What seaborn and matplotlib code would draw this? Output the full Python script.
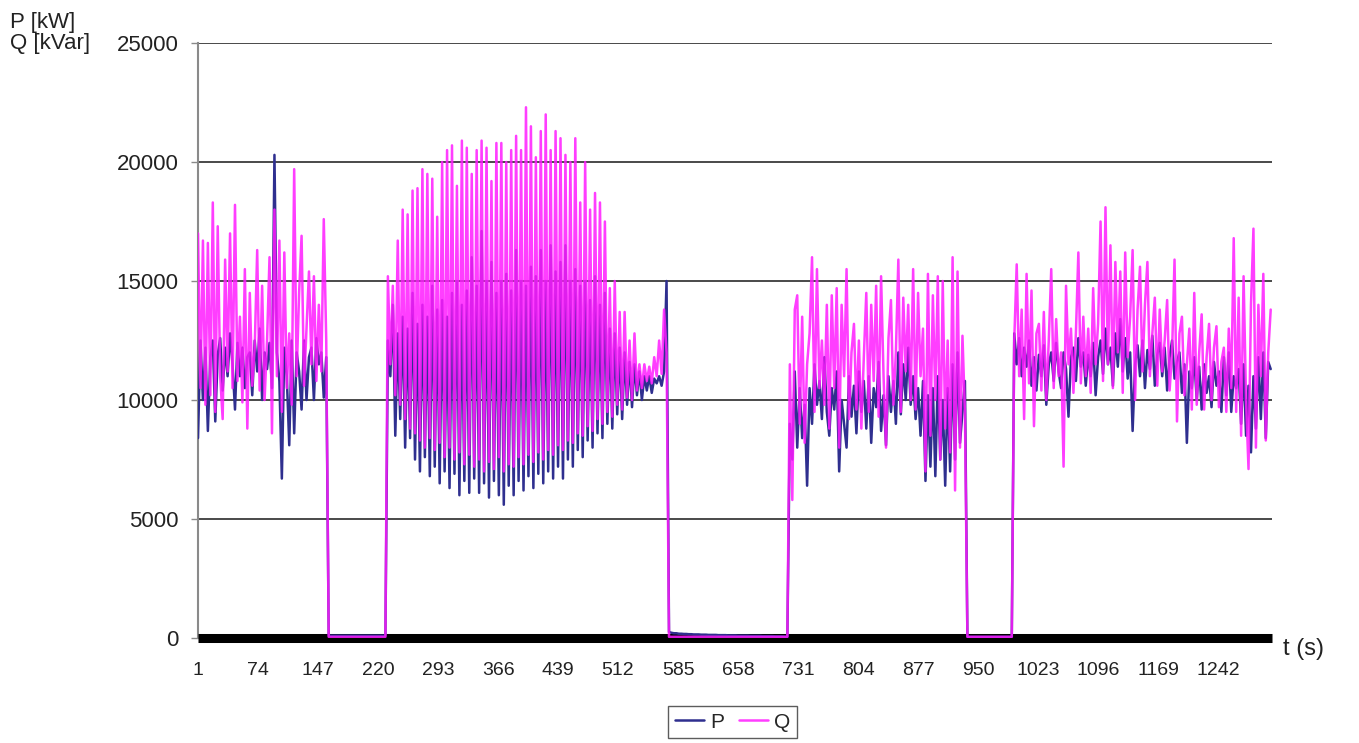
import numpy as np
import pandas as pd
import matplotlib
matplotlib.use("Agg")
import matplotlib.pyplot as plt
import seaborn as sns

# eje de tiempo (s): una muestra leída cada 3 s
t = np.arange(1, 1307, 3)

# valores, en miles (kW para P, kVar para Q)
P_a = [8.4, 12.5, 10.0, 12.2, 8.7, 11.8, 12.5, 9.1, 11.9, 12.6,
       10.4, 12.2, 11.0, 12.8, 11.5, 9.6, 12.4, 11.0, 12.2, 10.5,
       11.8, 12.0, 10.2, 12.5, 11.2, 13.0, 10.0, 12.0, 11.3, 12.4,
       10.5, 20.3, 12.0, 10.8, 6.7, 12.2, 11.0, 8.1, 12.5, 8.6,
       12.0, 11.2, 9.6, 12.5, 10.0, 11.8, 12.2, 10.0, 12.6, 11.5,
       12.0, 10.1, 11.8]
Q_a = [17.0, 10.5, 16.7, 9.8, 16.6, 10.2, 18.3, 9.5, 17.3, 11.0,
       9.2, 15.9, 11.2, 17.0, 10.5, 18.2, 10.8, 13.5, 9.9, 15.5,
       8.8, 14.5, 10.6, 12.2, 16.3, 10.4, 14.8, 10.0, 12.5, 16.0,
       8.6, 18.0, 11.0, 16.7, 9.5, 16.2, 10.5, 12.8, 9.8, 19.7,
       11.0, 14.5, 16.9, 10.6, 13.0, 15.4, 11.5, 15.2, 10.8, 14.0,
       11.2, 17.6, 12.5]

P_gap1 = [0.1, 0.1, 0.1, 0.1, 0.1, 0.1, 0.1, 0.1, 0.1, 0.1, 0.1, 0.1,
          0.1, 0.1, 0.1, 0.1, 0.1, 0.1, 0.1, 0.1, 0.1, 0.1, 0.1, 0.1]
Q_gap1 = [0.05, 0.05, 0.05, 0.05, 0.05, 0.05, 0.05, 0.05, 0.05, 0.05, 0.05, 0.05,
          0.05, 0.05, 0.05, 0.05, 0.05, 0.05, 0.05, 0.05, 0.05, 0.05, 0.05, 0.05]

P_b = [12.5, 11.0, 14.0, 8.5, 12.8, 9.2, 13.5, 8.0, 13.0, 8.4,
       14.5, 7.5, 13.2, 7.0, 14.0, 7.6, 13.5, 6.8, 14.8, 7.2,
       13.8, 6.5, 14.2, 7.0, 13.5, 6.3, 14.5, 6.9, 15.0, 6.0,
       14.0, 6.6, 14.6, 6.1, 16.0, 6.7, 14.8, 6.1, 17.1, 6.5,
       15.0, 5.9, 15.8, 6.6, 14.5, 6.0, 15.0, 5.6, 15.3, 6.4,
       14.6, 6.0, 16.3, 6.6, 15.0, 6.2, 14.8, 6.8, 15.6, 6.3,
       15.2, 6.9, 16.3, 6.5, 15.0, 7.0, 16.5, 6.7, 15.4, 7.2,
       15.8, 6.7, 16.5, 7.5, 15.0, 7.2, 15.5, 7.9, 14.8, 7.6,
       15.0, 8.3, 14.2, 8.0, 15.2, 8.6, 14.0, 8.4, 14.5, 9.0,
       13.0, 8.8, 12.8, 9.4, 12.2, 9.2, 12.0, 9.8, 11.6, 9.7,
       11.5, 10.2, 11.2, 10.0, 11.0, 10.4, 11.0, 10.3, 10.9, 10.7,
       11.0, 10.6, 11.2, 15.0]
Q_b = [15.2, 11.5, 14.8, 10.2, 16.7, 9.8, 18.0, 9.2, 17.8, 8.8,
       18.8, 8.6, 18.9, 8.3, 19.7, 8.0, 19.5, 8.4, 19.3, 7.9,
       17.7, 8.2, 20.0, 7.6, 20.5, 8.0, 20.7, 7.5, 19.0, 7.8,
       20.9, 7.3, 20.6, 7.7, 19.5, 7.2, 20.5, 7.5, 20.9, 7.0,
       20.6, 7.4, 19.2, 7.1, 20.8, 7.6, 20.8, 7.0, 20.0, 7.3,
       20.5, 7.2, 21.1, 7.6, 20.5, 7.3, 22.3, 7.7, 21.5, 7.4,
       20.2, 7.8, 21.3, 7.5, 22.0, 7.9, 20.5, 7.7, 21.3, 8.1,
       21.0, 7.9, 20.3, 8.3, 20.0, 8.2, 21.0, 8.6, 18.3, 8.5,
       20.0, 8.9, 18.0, 8.7, 18.7, 9.2, 18.3, 9.0, 17.5, 9.5,
       14.7, 9.3, 15.0, 9.8, 13.7, 9.6, 13.7, 10.1, 12.5, 10.0,
       12.8, 10.4, 11.5, 10.5, 11.5, 10.8, 11.4, 10.7, 11.8, 11.0,
       12.5, 11.1, 13.8, 12.0]

P_gap2 = [0.25, 0.22, 0.2, 0.2, 0.18, 0.18, 0.17, 0.17, 0.16, 0.16,
          0.15, 0.15, 0.15, 0.14, 0.14, 0.14, 0.13, 0.13, 0.13, 0.13,
          0.12, 0.12, 0.12, 0.12, 0.11, 0.11, 0.11, 0.11, 0.1, 0.1,
          0.1, 0.1, 0.1, 0.09, 0.09, 0.09, 0.09, 0.09, 0.08, 0.08,
          0.08, 0.08, 0.08, 0.07, 0.07, 0.07, 0.07, 0.06, 0.06]
Q_gap2 = [0.05, 0.05, 0.05, 0.05, 0.05, 0.05, 0.05, 0.05, 0.05, 0.05,
          0.05, 0.05, 0.05, 0.05, 0.05, 0.05, 0.05, 0.05, 0.05, 0.05,
          0.05, 0.05, 0.05, 0.05, 0.05, 0.05, 0.05, 0.05, 0.05, 0.05,
          0.05, 0.05, 0.05, 0.05, 0.05, 0.05, 0.05, 0.05, 0.05, 0.05,
          0.05, 0.05, 0.05, 0.05, 0.05, 0.05, 0.05, 0.05, 0.05]

P_c = [9.0, 7.5, 11.2, 8.0, 10.5, 8.4, 9.8, 6.4, 10.5, 9.0,
       11.5, 9.8, 10.8, 9.2, 11.8, 9.5, 8.5, 10.5, 9.6, 11.2,
       7.0, 10.0, 9.0, 8.0, 11.0, 9.3, 10.6, 8.6, 11.2, 9.5,
       10.8, 8.8, 11.0, 8.2, 10.5, 9.7, 11.6, 8.7, 10.2, 8.1,
       11.0, 9.5, 10.8, 9.0, 12.0, 9.4, 11.5, 10.0, 12.2, 9.8,
       11.0, 9.2, 10.5, 8.5, 10.8, 6.6, 10.2, 7.2, 10.5, 6.8,
       11.0, 7.5, 10.0, 6.4, 10.5, 7.0, 11.5, 7.5, 12.0, 8.2,
       9.5, 10.8]
Q_c = [11.5, 5.8, 13.8, 14.4, 9.0, 13.5, 8.2, 11.5, 12.8, 16.0,
       9.5, 15.5, 10.5, 12.5, 9.8, 14.0, 8.8, 14.4, 10.5, 14.7,
       8.0, 14.0, 11.0, 15.5, 9.2, 12.0, 13.2, 9.6, 12.5, 8.8,
       11.8, 14.5, 9.5, 14.0, 10.8, 14.8, 9.3, 15.2, 11.0, 8.0,
       12.6, 14.2, 9.8, 12.0, 15.9, 9.5, 14.3, 11.2, 14.0, 10.0,
       15.5, 9.6, 14.5, 11.0, 13.0, 7.0, 15.3, 8.5, 14.4, 10.0,
       15.2, 7.5, 15.0, 8.8, 12.5, 7.8, 16.0, 6.2, 15.4, 8.0,
       12.7, 9.5]

P_gap3 = [0.05, 0.05, 0.05, 0.05, 0.05, 0.05, 0.05, 0.05, 0.05, 0.05,
          0.05, 0.05, 0.05, 0.05, 0.05, 0.05, 0.05, 0.05, 0.05]
Q_gap3 = [0.05, 0.05, 0.05, 0.05, 0.05, 0.05, 0.05, 0.05, 0.05, 0.05,
          0.05, 0.05, 0.05, 0.05, 0.05, 0.05, 0.05, 0.05, 0.05]

P_d = [12.8, 11.5, 12.6, 11.0, 12.2, 11.4, 12.5, 10.6, 11.8, 10.4,
       11.9, 11.0, 12.3, 9.8, 11.5, 12.0, 10.8, 12.4, 11.2, 10.5,
       12.0, 11.3, 9.3, 11.8, 12.2, 10.8, 12.6, 11.4, 12.0, 10.6,
       11.9, 11.0, 12.4, 10.2, 11.8, 12.5, 11.1, 13.0, 11.5, 12.2,
       10.6, 12.8, 11.4, 13.4, 11.2, 12.6, 10.9, 12.0, 8.7, 11.5,
       12.3, 11.0, 12.5, 10.5, 12.1, 11.3, 12.7, 10.6, 11.9, 12.4,
       11.0, 12.2, 10.4, 11.8, 12.5, 10.9, 11.6, 12.0, 10.3, 11.5,
       8.2, 11.2, 10.5, 11.8, 10.0, 11.4, 9.6, 11.5, 10.3, 11.0,
       9.7, 11.6, 10.6, 11.2, 9.5, 11.8, 10.2, 12.0, 9.5, 11.0,
       10.5, 11.3, 9.0, 11.5, 8.5, 10.6, 7.8, 11.0, 8.8, 11.8,
       9.2, 12.0, 8.4, 11.6, 11.3]
Q_d = [12.5, 15.7, 11.0, 13.8, 9.2, 15.3, 10.7, 14.6, 8.9, 12.8,
       13.2, 10.4, 13.7, 10.0, 12.5, 15.5, 10.5, 13.4, 11.0, 12.0,
       7.2, 14.8, 11.5, 13.0, 10.3, 12.8, 16.2, 10.7, 13.5, 11.0,
       13.0, 10.3, 14.7, 11.5, 13.2, 17.5, 10.8, 18.1, 11.5, 16.5,
       10.5, 15.8, 12.0, 15.4, 10.3, 16.2, 11.8, 13.5, 16.3, 10.0,
       13.8, 15.6, 11.2, 14.0, 15.8, 11.0, 12.8, 14.3, 10.6, 13.8,
       11.2, 12.5, 14.2, 10.4, 12.0, 15.9, 9.1, 12.8, 13.5, 10.2,
       11.5, 13.0, 9.6, 14.5, 9.8, 12.0, 13.6, 9.6, 11.8, 13.2,
       10.0, 12.2, 13.1, 9.7, 11.6, 12.2, 9.5, 13.0, 10.5, 16.8,
       9.5, 14.3, 8.5, 15.2, 10.0, 7.1, 14.0, 17.2, 8.0, 14.0,
       11.0, 15.3, 8.3, 12.0, 13.8]

etiquetas_x = [1, 74, 147, 220, 293, 366, 439, 512, 585, 658, 731, 804,
               877, 950, 1023, 1096, 1169, 1242]
etiquetas_y = [0, 5000, 10000, 15000, 20000, 25000]

P = np.concatenate([P_a, P_gap1, P_b, P_gap2, P_c, P_gap3, P_d]) * 1000
Q = np.concatenate([Q_a, Q_gap1, Q_b, Q_gap2, Q_c, Q_gap3, Q_d]) * 1000
assert len(P) == len(t) and len(Q) == len(t), (len(P), len(Q), len(t))

df = pd.DataFrame({"t": t, "P": P, "Q": Q})
df_largo = df.melt(id_vars="t", var_name="serie", value_name="valor")

sns.set_theme(style="white")
plt.rcParams["font.family"] = ["Liberation Sans", "DejaVu Sans"]

fig = plt.figure(figsize=(13.59, 7.43), dpi=100)
ax = fig.add_axes([0.1457, 0.1413, 0.7903, 0.8008])

colores = {"P": "#2f2f8f", "Q": "#ff1cff"}
sns.lineplot(data=df_largo, x="t", y="valor", hue="serie", palette=colores,
             estimator=None, linewidth=1.8, ax=ax, zorder=3)
# Q un poco transparente para que se mezcle con P (tono violeta del original)
for linea in ax.lines:
    if linea.get_label() == "Q" or linea.get_color() == "#ff1cff":
        linea.set_alpha(0.85)

ax.set_xlim(1, 1307.6)
ax.set_ylim(0, 25000)
ax.set_xticks(etiquetas_x)
ax.set_xticklabels([str(v) for v in etiquetas_x])
ax.set_yticks(etiquetas_y)
ax.set_yticklabels([str(v) for v in etiquetas_y])
ax.set_xlabel("")
ax.set_ylabel("")

ax.yaxis.grid(True, color="#3a3a3a", linewidth=1.3)
ax.xaxis.grid(False)
ax.set_axisbelow(True)

for lado in ["top", "right"]:
    ax.spines[lado].set_visible(False)
ax.spines["left"].set_color("#8a8a8a")
ax.spines["left"].set_linewidth(1.5)
ax.spines["bottom"].set_color("black")
ax.spines["bottom"].set_linewidth(6.5)
ax.spines["bottom"].set_capstyle("butt")

ax.tick_params(axis="y", direction="out", length=5, width=1, color="#8a8a8a",
               pad=9, labelsize=16, labelcolor="#222222", left=True)
ax.tick_params(axis="x", length=0, pad=17, labelsize=14, labelcolor="#222222")

fig.text(0.007, 0.984, "P [kW]\nQ [kVar]", ha="left", va="top", fontsize=16,
         color="#222222", linespacing=1.0)
fig.text(0.944, 0.127, "t (s)", ha="left", va="center", fontsize=17, color="#222222")

handles, labels = ax.get_legend_handles_labels()
ax.get_legend().remove()
leg = fig.legend(handles, labels, loc="center", bbox_to_anchor=(0.539, 0.028), ncol=2,
                 frameon=True, fancybox=False, edgecolor="#333333", fontsize=15,
                 handlelength=1.4, handletextpad=0.3, columnspacing=0.7, borderpad=0.3)
leg.get_frame().set_linewidth(1.0)

fig.savefig("out.png", dpi=100)
